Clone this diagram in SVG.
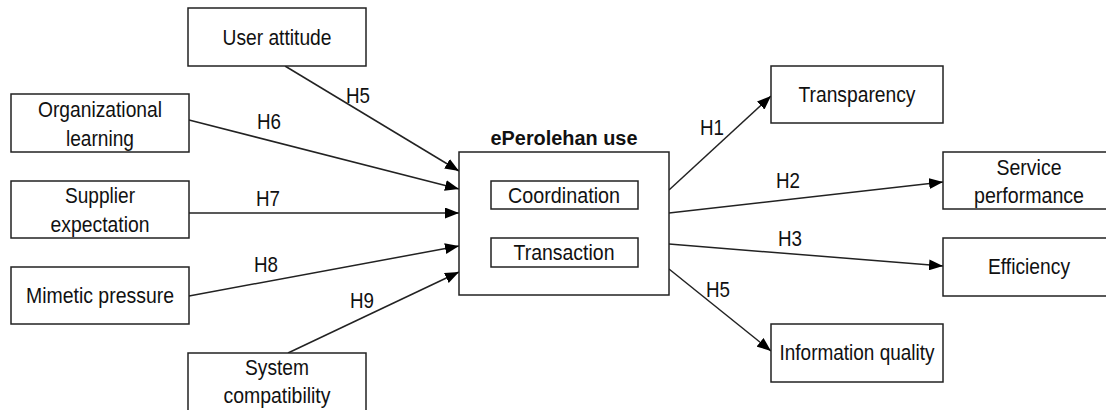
<svg xmlns="http://www.w3.org/2000/svg" width="1106" height="410" viewBox="0 0 1106 410">
<style>
.box{fill:#fff;stroke:#222;stroke-width:1.5}
.t{font-family:"Liberation Sans",Arial,sans-serif;font-size:22px;fill:#111;text-anchor:middle}
.b{font-family:"Liberation Sans",Arial,sans-serif;font-size:19.5px;font-weight:bold;fill:#111;text-anchor:middle}
.c{stroke:#222;stroke-width:1.5;fill:none;marker-end:url(#ah)}
</style>
<defs>
<marker id="ah" viewBox="0 0 10 10" refX="10" refY="5" markerWidth="14" markerHeight="11" markerUnits="userSpaceOnUse" orient="auto" preserveAspectRatio="none">
<path d="M0,0 L10,5 L0,10 z" fill="#000"/>
</marker>
</defs>
<rect width="1106" height="410" fill="#fff"/>
<g id="connectors">
<line class="c" x1="285" y1="66" x2="459" y2="171"/>
<line class="c" x1="189" y1="120" x2="459" y2="189"/>
<line class="c" x1="189" y1="213" x2="459" y2="213"/>
<line class="c" x1="189" y1="296" x2="459" y2="246"/>
<line class="c" x1="288" y1="353" x2="459" y2="272"/>
<line class="c" x1="669" y1="190" x2="771" y2="96"/>
<line class="c" x1="669" y1="213" x2="943" y2="182"/>
<line class="c" x1="669" y1="244" x2="943" y2="266"/>
<line class="c" x1="669" y1="269" x2="771" y2="351"/>
<text class="t" x="358" y="103" textLength="24" lengthAdjust="spacingAndGlyphs">H5</text>
<text class="t" x="269" y="129" textLength="24" lengthAdjust="spacingAndGlyphs">H6</text>
<text class="t" x="268" y="206" textLength="24" lengthAdjust="spacingAndGlyphs">H7</text>
<text class="t" x="266" y="272" textLength="24" lengthAdjust="spacingAndGlyphs">H8</text>
<text class="t" x="362" y="308" textLength="24" lengthAdjust="spacingAndGlyphs">H9</text>
<text class="t" x="712" y="135" textLength="24" lengthAdjust="spacingAndGlyphs">H1</text>
<text class="t" x="788" y="188" textLength="24" lengthAdjust="spacingAndGlyphs">H2</text>
<text class="t" x="790" y="246" textLength="24" lengthAdjust="spacingAndGlyphs">H3</text>
<text class="t" x="718" y="297" textLength="24" lengthAdjust="spacingAndGlyphs">H5</text>
</g>
<g id="user-attitude">
<rect class="box" x="188" y="8" width="178" height="58"/>
<text class="t" x="277" y="45" textLength="109" lengthAdjust="spacingAndGlyphs">User attitude</text>
</g>
<g id="organizational-learning">
<rect class="box" x="11" y="94" width="178" height="58"/>
<text class="t" x="100" y="117" textLength="124" lengthAdjust="spacingAndGlyphs">Organizational</text>
<text class="t" x="100" y="146" textLength="68" lengthAdjust="spacingAndGlyphs">learning</text>
</g>
<g id="supplier-expectation">
<rect class="box" x="11" y="181" width="178" height="57"/>
<text class="t" x="100" y="203" textLength="70" lengthAdjust="spacingAndGlyphs">Supplier</text>
<text class="t" x="100" y="232" textLength="99" lengthAdjust="spacingAndGlyphs">expectation</text>
</g>
<g id="mimetic-pressure">
<rect class="box" x="11" y="267" width="178" height="57"/>
<text class="t" x="100" y="303" textLength="148" lengthAdjust="spacingAndGlyphs">Mimetic pressure</text>
</g>
<g id="system-compatibility">
<rect class="box" x="188" y="353" width="178" height="62"/>
<text class="t" x="277" y="375" textLength="64" lengthAdjust="spacingAndGlyphs">System</text>
<text class="t" x="277" y="403" textLength="107" lengthAdjust="spacingAndGlyphs">compatibility</text>
</g>
<g id="eperolehan-use">
<text class="b" x="564" y="145" textLength="147" lengthAdjust="spacingAndGlyphs">ePerolehan use</text>
<rect class="box" x="459" y="152" width="210" height="143"/>
<rect class="box" x="491" y="181" width="147" height="28"/>
<text class="t" x="564" y="203" textLength="112" lengthAdjust="spacingAndGlyphs">Coordination</text>
<rect class="box" x="491" y="238" width="147" height="29"/>
<text class="t" x="564" y="260" textLength="101" lengthAdjust="spacingAndGlyphs">Transaction</text>
</g>
<g id="transparency">
<rect class="box" x="771" y="66" width="172" height="57"/>
<text class="t" x="857" y="102" textLength="117" lengthAdjust="spacingAndGlyphs">Transparency</text>
</g>
<g id="service-performance">
<rect class="box" x="943" y="152" width="170" height="57"/>
<text class="t" x="1029" y="175" textLength="65" lengthAdjust="spacingAndGlyphs">Service</text>
<text class="t" x="1029" y="203" textLength="110" lengthAdjust="spacingAndGlyphs">performance</text>
</g>
<g id="efficiency">
<rect class="box" x="943" y="238" width="170" height="58"/>
<text class="t" x="1029" y="274" textLength="82" lengthAdjust="spacingAndGlyphs">Efficiency</text>
</g>
<g id="information-quality">
<rect class="box" x="771" y="324" width="172" height="58"/>
<text class="t" x="857" y="360" textLength="155" lengthAdjust="spacingAndGlyphs">Information quality</text>
</g>
</svg>
